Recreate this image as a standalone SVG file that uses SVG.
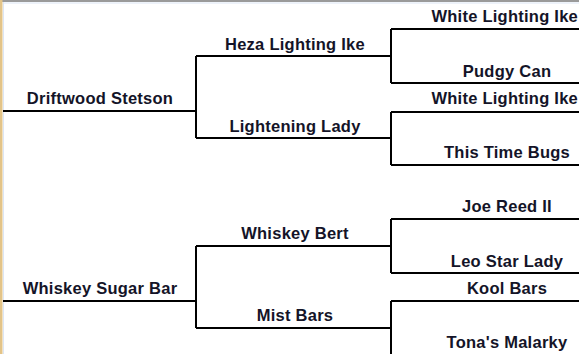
<svg xmlns="http://www.w3.org/2000/svg" width="579" height="354" viewBox="0 0 579 354">
<style>
.t{font-family:"Liberation Sans",Arial,sans-serif;font-weight:bold;font-size:16.5px;letter-spacing:0.25px;fill:#141428;text-anchor:middle}
.e{text-anchor:end}
.c{stroke:#000;stroke-width:2;fill:none}
</style>
<rect width="579" height="354" fill="#fff"/>
<rect x="0" y="0" width="579" height="2" fill="#9a9a9a"/>
<rect x="0" y="0" width="2.5" height="354" fill="#e3c488"/>
<line x1="3.5" y1="2" x2="3.5" y2="354" stroke="#dce6f5" stroke-width="1"/>
<line x1="3" y1="3" x2="579" y2="3" stroke="#dce6f5" stroke-width="1"/>
<g id="connectors" class="c">
<path d="M3,111 H196 M196,56 V138 M196,56 H391 M196,138 H391"/>
<path d="M391,29 V83 M391,29 H579 M391,83 H579"/>
<path d="M391,112 V165 M391,112 H579 M391,165 H579"/>
<path d="M3,301 H196 M196,246 V328 M196,246 H391 M196,328 H391"/>
<path d="M391,219 V273 M391,219 H579 M391,273 H579"/>
<path d="M391,301 V354 M391,301 H579"/>
</g>
<g id="n-driftwood"><text class="t" x="100" y="104">Driftwood Stetson</text></g>
<g id="n-heza"><text class="t" x="295" y="50">Heza Lighting Ike</text></g>
<g id="n-lightening"><text class="t" x="295" y="132">Lightening Lady</text></g>
<g id="n-white1"><text class="t e" x="578" y="22">White Lighting Ike</text></g>
<g id="n-pudgy"><text class="t" x="507" y="77">Pudgy Can</text></g>
<g id="n-white2"><text class="t e" x="578" y="104">White Lighting Ike</text></g>
<g id="n-bugs"><text class="t" x="507" y="158">This Time Bugs</text></g>
<g id="n-wsb"><text class="t" x="100" y="294">Whiskey Sugar Bar</text></g>
<g id="n-bert"><text class="t" x="295" y="239">Whiskey Bert</text></g>
<g id="n-mist"><text class="t" x="295" y="321">Mist Bars</text></g>
<g id="n-joe"><text class="t" x="507" y="212">Joe Reed II</text></g>
<g id="n-leo"><text class="t" x="507" y="267">Leo Star Lady</text></g>
<g id="n-kool"><text class="t" x="507" y="294">Kool Bars</text></g>
<g id="n-tona"><text class="t" x="507" y="348">Tona's Malarky</text></g>
</svg>
